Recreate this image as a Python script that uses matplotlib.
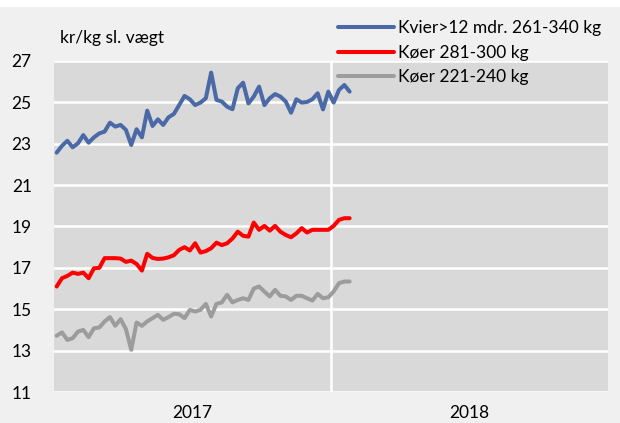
import matplotlib
matplotlib.use("Agg")
import matplotlib.pyplot as plt
import numpy as np

# weekly prices, 2017 week 1 .. 2018 week 4
kvier = [22.57, 22.9, 23.14, 22.83, 23.02, 23.42, 23.05, 23.31, 23.5, 23.59,
         24.02, 23.83, 23.91, 23.67, 22.94, 23.7, 23.31, 24.6, 23.86, 24.18,
         23.91, 24.28, 24.44, 24.87, 25.31, 25.15, 24.87, 24.99, 25.2, 26.44,
         25.12, 25.04, 24.79, 24.67, 25.68, 25.95, 24.95, 25.28, 25.76, 24.87,
         25.2, 25.4, 25.28, 25.04, 24.5, 25.15, 24.99, 25.02, 25.15, 25.44,
         24.66, 25.52, 24.99, 25.6, 25.84, 25.52]
koer_281 = [16.1, 16.5, 16.61, 16.77, 16.71, 16.77, 16.5, 16.98, 17.0, 17.47,
            17.47, 17.47, 17.45, 17.29, 17.35, 17.19, 16.87, 17.68, 17.48, 17.43,
            17.45, 17.51, 17.61, 17.87, 18.0, 17.84, 18.19, 17.74, 17.81, 17.95,
            18.22, 18.1, 18.19, 18.42, 18.75, 18.55, 18.51, 19.19, 18.84, 19.03,
            18.8, 19.03, 18.75, 18.59, 18.48, 18.67, 18.92, 18.71, 18.84, 18.84,
            18.84, 18.84, 19.03, 19.32, 19.4, 19.4]
koer_221 = [13.72, 13.88, 13.52, 13.6, 13.92, 14.0, 13.65, 14.08, 14.12, 14.41,
            14.62, 14.2, 14.52, 14.04, 13.04, 14.36, 14.2, 14.41, 14.57, 14.73,
            14.49, 14.62, 14.78, 14.76, 14.57, 14.97, 14.89, 14.97, 15.26, 14.65,
            15.26, 15.33, 15.7, 15.33, 15.45, 15.53, 15.45, 16.0, 16.1, 15.85,
            15.62, 15.94, 15.65, 15.62, 15.45, 15.65, 15.65, 15.53, 15.42, 15.74,
            15.53, 15.58, 15.86, 16.26, 16.34, 16.34]
years = ["2017", "2018"]
labels = ["Kvier>12 mdr. 261-340 kg", "Køer 281-300 kg", "Køer 221-240 kg"]
colors = ["#4a69a6", "#ff0000", "#9c9c9c"]

plt.rcParams["font.family"] = ["Lato", "DejaVu Sans"]

fig = plt.figure(figsize=(6.2, 4.23), dpi=100, facecolor="#f0f0f0")
# thin white band along the top edge, as in the source
fig.patches.append(plt.Rectangle((0, 1 - 7 / 423), 1, 7 / 423, transform=fig.transFigure,
                                 facecolor="white", edgecolor="none"))
ax = fig.add_axes([54 / 620, 1 - 392 / 423, 554 / 620, 331 / 423])
ax.set_facecolor("#d9d9d9")

weeks = 52
x = np.arange(len(kvier)) + 0.5
for series, color, label in zip([kvier, koer_281, koer_221], colors, labels):
    ax.plot(x, series, color=color, lw=2.9, label=label,
            solid_joinstyle="round", solid_capstyle="round", zorder=3)

ax.set_xlim(0, 2 * weeks)
ax.set_ylim(11, 27)
ax.set_yticks(np.arange(11, 28, 2))
ax.grid(axis="y", color="white", lw=1.8, zorder=1)
ax.axvline(weeks, color="white", lw=1.8, zorder=1)
ax.set_axisbelow(True)
ax.set_xticks([weeks / 2, weeks * 1.5])
ax.set_xticklabels(years)
ax.tick_params(axis="both", length=0, labelsize=12.5, colors="black")
ax.tick_params(axis="y", pad=16)
ax.tick_params(axis="x", pad=9)
for s in ax.spines.values():
    s.set_visible(False)

fig.text(60 / 620, 1 - 38 / 423, "kr/kg sl. vægt", fontsize=12.5, va="center")

ax.legend(loc="upper left", bbox_to_anchor=(338 / 620, 1 - 20 / 423),
          bbox_transform=fig.transFigure, frameon=False, fontsize=12.5,
          handlelength=3.2, handletextpad=0.25, labelspacing=0.5,
          borderpad=0, borderaxespad=0)

fig.savefig("out.png", dpi=100, facecolor=fig.get_facecolor())
